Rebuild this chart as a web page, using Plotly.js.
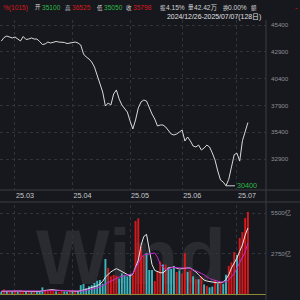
<!DOCTYPE html>
<html><head><meta charset="utf-8">
<script src="https://cdn.plot.ly/plotly-3.0.1.min.js"></script>
<style>
html,body{margin:0;padding:0;background:#16181d;width:300px;height:300px;overflow:hidden}
#wm{position:absolute;left:36px;top:212px;font-family:"Liberation Sans",Arial,sans-serif;font-weight:bold;font-size:78px;line-height:normal;color:#292b30;z-index:0;white-space:nowrap}
#chart{position:absolute;left:0;top:0;width:300px;height:300px;z-index:1}
</style></head><body>
<div id="wm">Wind</div>
<div id="chart"></div>
<script>
const dates = [
'2025-02-24','2025-02-25','2025-02-26','2025-02-27','2025-02-28',
'2025-03-03','2025-03-04','2025-03-05','2025-03-06','2025-03-07','2025-03-10','2025-03-11','2025-03-12','2025-03-13','2025-03-14',
'2025-03-17','2025-03-18','2025-03-19','2025-03-20','2025-03-21','2025-03-24','2025-03-25','2025-03-26','2025-03-27','2025-03-28','2025-03-31',
'2025-04-01','2025-04-02','2025-04-03','2025-04-07','2025-04-08','2025-04-09','2025-04-10','2025-04-11','2025-04-14','2025-04-15',
'2025-04-16','2025-04-17','2025-04-18','2025-04-21','2025-04-22','2025-04-23','2025-04-24','2025-04-25','2025-04-28','2025-04-29','2025-04-30',
'2025-05-06','2025-05-07','2025-05-08','2025-05-09','2025-05-12','2025-05-13','2025-05-14','2025-05-15','2025-05-16','2025-05-19',
'2025-05-20','2025-05-21','2025-05-22','2025-05-23','2025-05-26','2025-05-27','2025-05-28','2025-05-29','2025-05-30',
'2025-06-03','2025-06-04','2025-06-05','2025-06-06','2025-06-09','2025-06-10','2025-06-11','2025-06-12','2025-06-13','2025-06-16',
'2025-06-17','2025-06-18','2025-06-19','2025-06-20','2025-06-23','2025-06-24','2025-06-25','2025-06-26','2025-06-27','2025-06-30',
'2025-07-01','2025-07-02','2025-07-03','2025-07-04','2025-07-07'];
const closePrice = [43900,44230,44370,44280,44190,44280,44090,43910,44330,44050,
44090,44190,44090,44090,43860,43580,43630,43810,43720,43810,
43860,43810,43810,43770,43670,43720,43810,43810,43720,43530,
42700,42410,42230,41950,41480,40730,40080,39150,37840,38120,
37940,38960,39340,38500,37940,37560,37280,36440,35700,36540,
37660,38220,38400,38310,37660,37100,36630,35980,36070,36070,
35880,35600,35230,35140,35230,35420,35600,34580,34950,34580,
34110,34020,34200,33740,33920,34200,34020,33460,32800,31780,
30940,30750,30400,31000,32300,33300,33450,32700,34600,35400,36300];
const volume = [150,300,200,150,180,220,160,250,130,170,
140,120,160,130,200,450,200,280,330,240,
180,150,200,170,140,180,150,160,220,600,
680,400,520,600,750,900,950,700,2380,1770,
1200,1300,1250,1050,1400,1300,1200,1350,1300,4960,
5140,3200,2600,2780,1630,1630,880,1500,2200,2000,
2000,1800,1700,1900,1500,1600,1400,2780,1500,1600,
1200,1000,1000,1200,650,550,450,500,900,700,
800,700,1300,1900,2150,2850,2650,3800,4200,5160,5570];
const volUp = [0,1,0,1,0,1,0,1,1,0,
1,0,1,0,0,0,1,1,1,1,
0,1,1,0,0,1,0,1,0,0,
0,0,0,0,0,0,0,0,0,1,
1,1,1,0,0,0,0,0,1,1,
1,1,1,0,0,0,1,1,1,0,
1,0,0,0,1,0,1,1,0,1,
0,1,0,1,0,1,0,0,1,0,
1,0,0,1,1,1,0,1,1,1,1];
const ma5 = [180,190,190,200,200,210,200,200,180,170,
170,160,150,150,170,220,240,290,320,300,
250,240,220,190,170,170,170,170,180,230,
260,300,380,440,480,560,680,850,1150,1350,
1500,1620,1720,1630,1520,1430,1300,1220,1350,1800,
2300,3300,3900,4050,3100,2000,1600,1500,1450,1430,
1600,1770,1800,1830,1750,1700,1720,1770,1770,1760,
1650,1500,1300,1090,950,880,850,810,780,750,
780,810,1000,1300,1770,2100,2440,2900,3330,4000,4480];
const ma10 = [200,200,200,190,190,190,200,200,200,190,
190,180,180,170,180,190,210,230,250,260,
260,250,240,230,220,210,200,190,190,200,
220,250,290,330,370,420,480,560,680,780,
880,980,1090,1150,1200,1250,1280,1300,1380,1750,
2150,2450,2650,2700,2720,2760,2780,2500,2000,1800,
1650,1700,1800,1800,1770,1770,1770,1770,1770,1740,
1650,1580,1500,1400,1300,1150,1050,980,920,860,
820,810,830,950,1150,1400,1750,2150,2500,2850,3460];
const xTickVals = ['2025-03-03','2025-04-01','2025-05-06','2025-06-03','2025-07-01'];
const xTickText = ['25.03','25.04','25.05','25.06','25.07'];
const priceTicks = [32900,35400,37900,40400,42900,45400];
const volTicks = [2750,5500];
const volTickText = ['2750亿','5500亿'];
const headerText = ['%(1015)','开','35100','高','36525','低','35050','收','35798','振','4.15%','量','42.42万','换','0.00%','额','-'];
const rangeText = '2024/12/26-2025/07/07(128日)';

const RED='#d8191c', GREEN='#2fb84a', CYAN='#3db5bf', LIGHT='#d4d4d6';
const headerStyle = [[1,RED,6.6],[33,LIGHT,5.5],[39.5,GREEN,6.6],[63,LIGHT,5.5],[70,RED,6.6],
 [95,LIGHT,5.5],[102,GREEN,6.6],[124,LIGHT,5.5],[131,RED,6.6],[157.5,LIGHT,5.5],[163.5,LIGHT,6.6],
 [185.5,LIGHT,5.5],[191.5,LIGHT,6.6],[220.5,LIGHT,5.5],[226,LIGHT,6.6],[249,LIGHT,5.5],[293,RED,8]];
const PW=266;
const annotations = headerText.map((t,i)=>({xref:'paper',yref:'paper',x:headerStyle[i][0]/PW,y:1-7.5/300,text:t,showarrow:false,
  xanchor:'left',yanchor:'middle',font:{size:headerStyle[i][2],color:headerStyle[i][1]}}));
annotations.push({xref:'paper',yref:'paper',x:165/PW,y:1-16.5/300,text:rangeText,showarrow:false,xanchor:'left',yanchor:'middle',font:{size:6.9,color:'#e2e2e4'}});
let minIdx=0; closePrice.forEach((v,i)=>{if(v<closePrice[minIdx])minIdx=i;});
annotations.push({xref:'x',yref:'y',x:dates[minIdx],y:closePrice[minIdx],text:String(closePrice[minIdx]),showarrow:true,arrowhead:0,
  arrowwidth:1,arrowcolor:'#cfcfcf',ax:9,ay:0,xanchor:'left',font:{size:7.2,color:GREEN}});

const gridc='#30333a';
const traces = [
 {x:dates,y:closePrice,type:'scatter',mode:'lines',xaxis:'x',yaxis:'y',line:{color:'#d9d9d9',width:1},hoverinfo:'skip'},
 {x:dates,y:volume,type:'bar',xaxis:'x2',yaxis:'y2',width:0.7,marker:{color:volUp.map(u=>u?RED:CYAN),line:{width:0}},hoverinfo:'skip'},
 {x:dates,y:ma5,type:'scatter',mode:'lines',xaxis:'x2',yaxis:'y2',line:{color:'#e8e8e8',width:1},hoverinfo:'skip'},
 {x:dates,y:ma10,type:'scatter',mode:'lines',xaxis:'x2',yaxis:'y2',line:{color:'#c42bc8',width:1},hoverinfo:'skip'}
];
const layout = {
 width:300,height:300,margin:{l:0,r:34,t:0,b:0},
 paper_bgcolor:'rgba(0,0,0,0)',plot_bgcolor:'rgba(0,0,0,0)',showlegend:false,
 font:{family:'"Liberation Sans", Arial, "Noto Sans CJK SC", sans-serif',size:7,color:'#9a9ca2'},
 xaxis:{type:'category',range:[-0.47,96.6],domain:[0,1],anchor:'y',tickvals:xTickVals,ticktext:xTickText,showgrid:true,
   gridcolor:gridc,griddash:'dot',zeroline:false,showline:false,ticks:'',tickfont:{size:7.2,color:'#c9cacd'},ticklabelshift:10,fixedrange:true},
 yaxis:{domain:[1-190/300,1-20/300],range:[30008,45866],side:'right',anchor:'x',tickvals:priceTicks,tickformat:'d',showgrid:true,gridcolor:gridc,
   griddash:'dot',zeroline:false,showline:false,ticks:'',tickfont:{size:6.2,color:'#8d9096'},ticklabelstandoff:4,fixedrange:true},
 xaxis2:{type:'category',range:[-0.47,96.6],domain:[0,1],anchor:'y2',matches:'x',tickvals:xTickVals,showticklabels:false,showgrid:true,
   gridcolor:gridc,griddash:'dot',zeroline:false,showline:false,ticks:''},
 yaxis2:{domain:[1-296/300,1-205/300],range:[-136,6043],side:'right',anchor:'x2',tickvals:volTicks,ticktext:volTickText,showgrid:true,
   gridcolor:gridc,griddash:'dot',zeroline:true,zerolinecolor:'#8e8b36',zerolinewidth:1,showline:false,ticks:'',
   tickfont:{size:6.2,color:'#8d9096'},ticklabelstandoff:4,fixedrange:true},
 shapes:[
  {type:'line',xref:'paper',yref:'paper',x0:0,x1:300/PW,y0:1-190/300,y1:1-190/300,line:{color:'#3a3d44',width:1}},
  {type:'line',xref:'paper',yref:'paper',x0:0,x1:300/PW,y0:1-202/300,y1:1-202/300,line:{color:'#3a3d44',width:1}},
  {type:'line',xref:'paper',yref:'paper',x0:1,x1:1,y0:0,y1:1-20/300,line:{color:'#3a3d44',width:1}}
 ],
 annotations:annotations
};
Plotly.newPlot('chart',traces,layout,{staticPlot:true,displayModeBar:false});
</script>
</body></html>
